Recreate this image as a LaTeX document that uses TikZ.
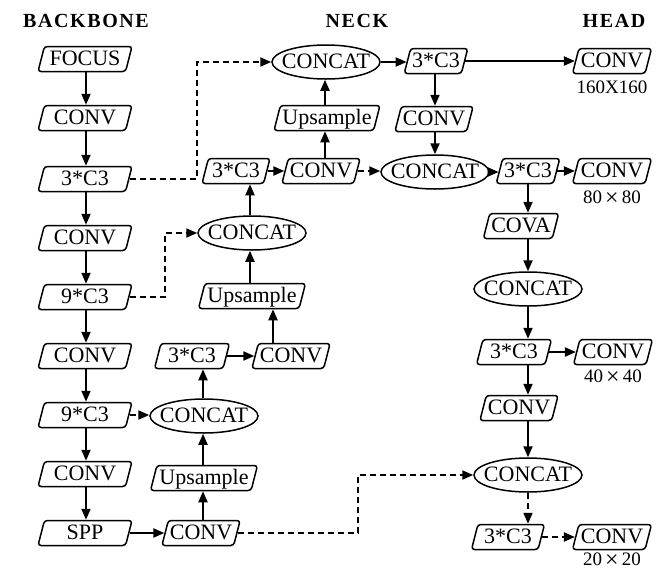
\documentclass[tikz,border=0pt]{standalone}
\usepackage{fontspec}
\setmainfont{Liberation Serif}
\newfontfamily\ttlfont[LetterSpace=8]{Liberation Serif}
\usetikzlibrary{shapes.geometric,arrows.meta}
\newcommand\myfs{\fontsize{22}{24}\selectfont}
\newcommand\myfl{\fontsize{19}{22}\selectfont}
\newcommand\myft{\ttlfont\bfseries\fontsize{20}{24}\selectfont}
\newcommand\bigx{\,\raisebox{-2pt}{\fontsize{24}{22}\selectfont ×}\,}
\tikzset{
 box/.style={trapezium, trapezium left angle=75, trapezium right angle=105,
   trapezium stretches body, draw, line width=1.5pt, rounded corners=3pt,
   inner xsep=1.5pt, inner ysep=3pt, text height=15pt, text depth=3pt,
   minimum height=25pt, font=\myfs},
 bbox/.style={box, minimum width=94pt},
 hbox/.style={box, minimum width=79pt},
 cat/.style={ellipse, draw, line width=1.5pt, minimum width=108pt,
   minimum height=34pt, inner xsep=-15pt, inner ysep=0pt,
   text height=15pt, text depth=3pt, font=\myfs},
 arr/.style={line width=2pt, -{Triangle[length=11pt,width=9pt]}},
 darr/.style={arr, dash pattern=on 6pt off 4pt},
 lbl/.style={font=\myfl, inner sep=0pt},
 ttl/.style={font=\myft, inner sep=0pt}
}
\begin{document}
\begin{tikzpicture}[x=1pt,y=-1pt]
\useasboundingbox (0,0) rectangle (665,574);
% titles
\node[ttl] (tb) at (86,21) {BACKBONE};
\node[ttl] (tn) at (357,21) {NECK};
\node[ttl] (th) at (614,21) {HEAD};
% backbone
\node[bbox] (b1) at (85,59) {FOCUS};
\node[bbox] (b2) at (85,118) {CONV};
\node[bbox] (b3) at (85,179) {3*C3};
\node[bbox] (b4) at (85,238) {CONV};
\node[bbox] (b5) at (85,297) {9*C3};
\node[bbox] (b6) at (85,356) {CONV};
\node[bbox] (b7) at (85,415) {9*C3};
\node[bbox] (b8) at (85,474) {CONV};
\node[bbox] (b9) at (85,533) {SPP};
% neck
\node[cat] (ncat1) at (326,62) {CONCAT};
\node[box] (nc3a) at (436,61) {3*C3};
\node[box, minimum width=106pt] (nup1) at (327,118) {Upsample};
\node[box] (nconva) at (434,119) {CONV};
\node[box, minimum width=68pt] (nc3b) at (236,171) {3*C3};
\node[box] (nconvb) at (321,171) {CONV};
\node[cat] (ncat2) at (435,172) {CONCAT};
\node[cat] (ncat3) at (252,233) {CONCAT};
\node[box, minimum width=107pt] (nup2) at (252,296) {Upsample};
\node[box, minimum width=75pt] (nc3c) at (192,356) {3*C3};
\node[box] (nconvc) at (291,356) {CONV};
\node[cat] (ncat4) at (204,416) {CONCAT};
\node[box, minimum width=107pt] (nup3) at (204,478) {Upsample};
\node[box] (nconvd) at (201,533) {CONV};
% head
\node[hbox] (hconv160) at (612,61) {CONV};
\node[lbl] (l160) at (612,87) {160X160};
\node[box] (hc3a) at (528,171) {3*C3};
\node[hbox] (hconv80) at (612,171) {CONV};
\node[lbl] (l80) at (612,198) {80\bigx80};
\node[box, minimum width=75pt] (hcova) at (521,226) {COVA};
\node[cat] (hcat1) at (528,289) {CONCAT};
\node[box, minimum width=75pt] (hc3b) at (514,352) {3*C3};
\node[hbox] (hconv40) at (613,352) {CONV};
\node[lbl] (l40) at (613,377) {40\bigx40};
\node[box, minimum width=75pt] (hconv) at (519,408) {CONV};
\node[cat] (hcat2) at (528,475) {CONCAT};
\node[box, minimum width=73pt] (hc3c) at (508,537) {3*C3};
\node[hbox] (hconv20) at (612,537) {CONV};
\node[lbl] (l20) at (612,560) {20\bigx20};
% column x coordinates
\coordinate (xb) at (86,0);
\coordinate (xh) at (528,0);
\coordinate (xna) at (435,0);
\coordinate (xnb) at (325,0);
\coordinate (xnc) at (250,0);
\coordinate (xnd) at (273,0);
\coordinate (xne) at (203,0);
\coordinate (xda) at (197,0);
\coordinate (xdb) at (165,0);
\coordinate (xdc) at (358,0);
% backbone arrows
\foreach \i/\j in {b1/b2,b2/b3,b3/b4,b4/b5,b5/b6,b6/b7,b7/b8,b8/b9}
  \draw[arr] (\i.south -| xb) -- (\j.north -| xb);
% head verticals
\foreach \i/\j in {hc3a/hcova,hcova/hcat1,hcat1/hc3b,hc3b/hconv,hconv/hcat2}
  \draw[arr] (\i.south -| xh) -- (\j.north -| xh);
\draw[darr] (hcat2.south -| xh) -- (hc3c.north -| xh);
% neck verticals
\draw[arr] (nc3a.south -| xna) -- (nconva.north -| xna);
\draw[arr] (nconva.south -| xna) -- (ncat2.north -| xna);
\draw[arr] (nconvb.north -| xnb) -- (nup1.south -| xnb);
\draw[arr] (nup1.north -| xnb) -- (ncat1.south -| xnb);
\draw[arr] (ncat3.north -| xnc) -- (nc3b.south -| xnc);
\draw[arr] (nup2.north -| xnc) -- (ncat3.south -| xnc);
\draw[arr] (nconvc.north -| xnd) -- (nup2.south -| xnd);
\draw[arr] (nconvd.north -| xne) -- (nup3.south -| xne);
\draw[arr] (nup3.north -| xne) -- (ncat4.south -| xne);
\draw[arr] (ncat4.north -| xne) -- (nc3c.south -| xne);
% horizontals
\draw[arr] (ncat1.east) -- (ncat1.east -| nc3a.west);
\draw[arr] (nc3a.east) -- (nc3a.east -| hconv160.west);
\draw[arr] (nc3b.east) -- (nc3b.east -| nconvb.west);
\draw[darr] (nconvb.east) -- (nconvb.east -| ncat2.west);
\draw[arr] (ncat2.east) -- (ncat2.east -| hc3a.west);
\draw[arr] (hc3a.east) -- (hc3a.east -| hconv80.west);
\draw[arr] (nc3c.east) -- (nc3c.east -| nconvc.west);
\draw[darr] (b7.east) -- (b7.east -| ncat4.west);
\draw[arr] (b9.east) -- (b9.east -| nconvd.west);
\draw[arr] (hc3b.east) -- (hc3b.east -| hconv40.west);
\draw[darr] (hc3c.east) -- (hc3c.east -| hconv20.west);
% dashed elbows
\draw[darr] (b3.east) -| (ncat1.west -| xda) -- (ncat1.west);
\draw[darr] (b5.east) -| (ncat3.west -| xdb) -- (ncat3.west);
\draw[darr] (nconvd.east) -| (hcat2.west -| xdc) -- (hcat2.west);
\end{tikzpicture}
\end{document}
